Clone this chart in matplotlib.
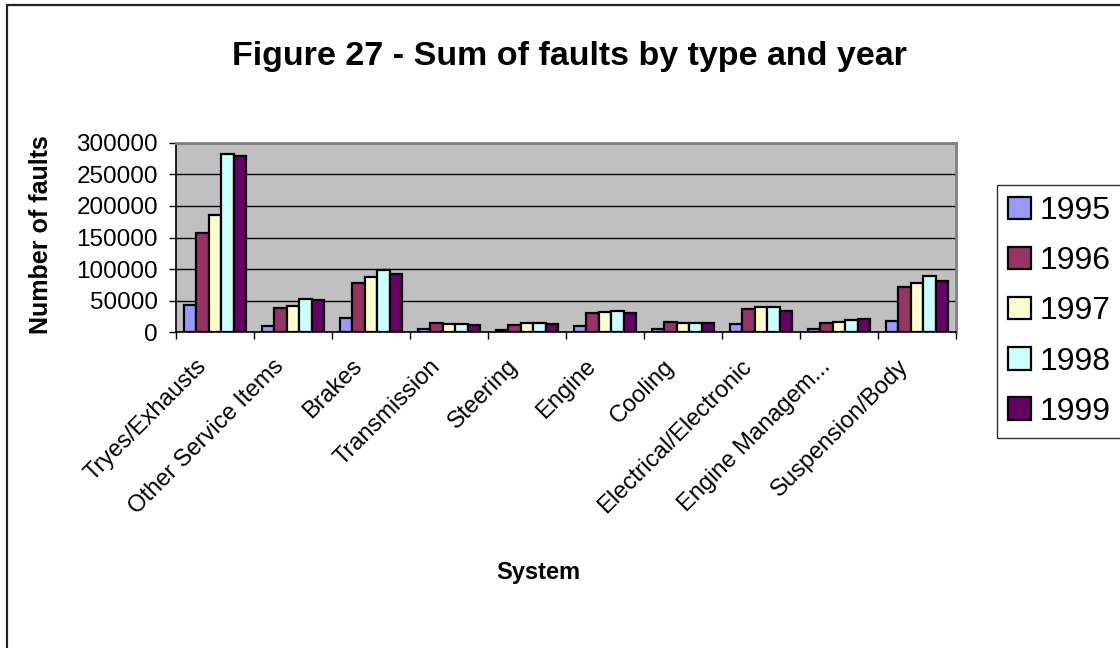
import matplotlib
matplotlib.use("Agg")
import matplotlib.pyplot as plt
import matplotlib.transforms as mtransforms
from matplotlib.patches import Rectangle
import numpy as np

plt.rcParams['font.family'] = ['Liberation Sans', 'DejaVu Sans']

systems = ['Tryes/Exhausts', 'Other Service Items', 'Brakes', 'Transmission',
           'Steering', 'Engine', 'Cooling', 'Electrical/Electronic',
           'Engine Managem...', 'Suspension/Body']
years = ['1995', '1996', '1997', '1998', '1999']

faults_1995 = [43000, 10000, 22000, 5000, 3500, 10000, 5000, 12500, 5000, 18500]
faults_1996 = [157000, 39000, 78500, 15500, 11500, 30000, 16500, 37000, 15500, 71000]
faults_1997 = [185000, 41500, 88000, 12500, 14000, 31500, 15500, 39500, 17000, 77500]
faults_1998 = [282000, 52500, 98000, 12500, 15500, 34000, 14000, 40500, 19500, 89000]
faults_1999 = [279000, 51000, 92000, 12000, 12500, 31000, 14000, 33500, 20500, 81500]

series = [faults_1995, faults_1996, faults_1997, faults_1998, faults_1999]
colors = ['#9999FF', '#993366', '#FFFFCC', '#CCFFFF', '#660066']

W, H = 1120, 648
fig = plt.figure(figsize=(W / 100, H / 100), dpi=100)

# outer chart frame (runs off the right and bottom edges)
fig.patches.append(Rectangle((7 / W, -0.05), 1.1, 1 - 5 / H + 0.05,
                             transform=fig.transFigure, fill=False,
                             edgecolor='#222222', linewidth=1.6))

ax = fig.add_axes([176 / W, (H - 332.3) / H, 780 / W, 189.6 / H])
ax.set_facecolor('#C0C0C0')

x = np.arange(len(systems))
bw = 0.16
for j, (vals, c) in enumerate(zip(series, colors)):
    ax.bar(x + (j - 2) * bw, vals, bw, color=c, edgecolor='black',
           linewidth=1.6, label=years[j], zorder=3)

ax.set_xlim(-0.5, len(systems) - 0.5)
ax.set_ylim(0, 300000)
ax.set_yticks(np.arange(0, 300001, 50000))
ax.yaxis.grid(True, color='black', linewidth=1.0, zorder=1)
ax.set_axisbelow(True)

# tick marks on the category boundaries, names drawn below each centre
ax.set_xticks(np.arange(-0.5, len(systems), 1.0))
ax.set_xticklabels([])
ax.tick_params(axis='x', length=5, width=1, direction='out')
ax.tick_params(axis='y', length=5, width=1, direction='out', labelsize=17.5, pad=8)

name_tf = ax.get_xaxis_transform() + mtransforms.ScaledTranslation(
    -0.20, -0.23, fig.dpi_scale_trans)
for i, name in enumerate(systems):
    ax.text(i, 0, name, transform=name_tf, rotation=45, ha='right', va='top',
            rotation_mode='anchor', fontsize=17)

for side in ['top', 'right']:
    ax.spines[side].set_color('#808080')
    ax.spines[side].set_linewidth(2)
for side in ['left', 'bottom']:
    ax.spines[side].set_color('black')
    ax.spines[side].set_linewidth(1.2)

fig.text(41 / W, 1 - 235 / H, 'Number of faults', rotation=90, fontsize=18,
         fontweight='bold', ha='center', va='center')
fig.text(569 / W, 1 - 57 / H, 'Figure 27 - Sum of faults by type and year',
         fontsize=24.5, fontweight='bold', ha='center', va='center')
fig.text(538 / W, 1 - 572 / H, 'System', fontsize=17, fontweight='bold',
         ha='center', va='center')

leg = fig.legend(loc='upper left', bbox_to_anchor=(997 / W, 1 - 185 / H),
                 fontsize=23, frameon=True, fancybox=False, shadow=False,
                 handlelength=0.7, handleheight=0.7, handletextpad=0.3,
                 labelspacing=0.63, borderpad=0.35, borderaxespad=0)
leg.get_frame().set_edgecolor('black')
leg.get_frame().set_linewidth(1.0)

fig.savefig('out.png', dpi=100)
